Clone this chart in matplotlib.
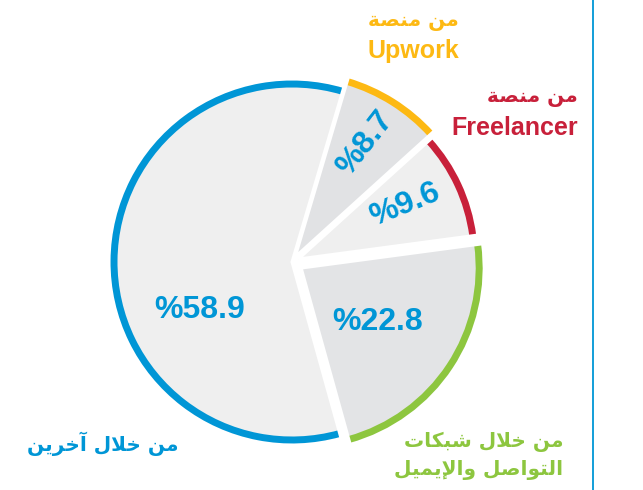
import numpy as np
import matplotlib.pyplot as plt
from matplotlib.patches import Wedge

# data
shares = [58.9, 22.8, 9.6, 8.7]
value_labels = ['%58.9', '%22.8', '%9.6', '%8.7']
ring_colors = ['#0096d6', '#8dc63f', '#c8203a', '#fdb913']
fill_colors = ['#efefef', '#e3e4e6', '#efefef', '#e1e2e4']
label_lines = [
    ['من خلال آخرين'],
    ['من خلال شبكات', 'التواصل والإيميل'],
    ['من منصة', 'Freelancer'],
    ['من منصة', 'Upwork'],
]

# arabic shaping by hand (matplotlib has no complex text layout)
FORMS = {  # isolated, final, initial, medial
    'ا': ('\uFE8D', '\uFE8E', None, None),
    'آ': ('\uFE81', '\uFE82', None, None),
    'إ': ('\uFE87', '\uFE88', None, None),
    'ب': ('\uFE8F', '\uFE90', '\uFE91', '\uFE92'),
    'ة': ('\uFE93', '\uFE94', None, None),
    'ت': ('\uFE95', '\uFE96', '\uFE97', '\uFE98'),
    'خ': ('\uFEA5', '\uFEA6', '\uFEA7', '\uFEA8'),
    'ر': ('\uFEAD', '\uFEAE', None, None),
    'ش': ('\uFEB5', '\uFEB6', '\uFEB7', '\uFEB8'),
    'ص': ('\uFEB9', '\uFEBA', '\uFEBB', '\uFEBC'),
    'ك': ('\uFED9', '\uFEDA', '\uFEDB', '\uFEDC'),
    'ل': ('\uFEDD', '\uFEDE', '\uFEDF', '\uFEE0'),
    'م': ('\uFEE1', '\uFEE2', '\uFEE3', '\uFEE4'),
    'ن': ('\uFEE5', '\uFEE6', '\uFEE7', '\uFEE8'),
    'و': ('\uFEED', '\uFEEE', None, None),
    'ي': ('\uFEF1', '\uFEF2', '\uFEF3', '\uFEF4'),
}
LAM_ALEF = {'ا': ('\uFEFB', '\uFEFC'), 'آ': ('\uFEF5', '\uFEF6'), 'إ': ('\uFEF9', '\uFEFA')}


def shape_arabic(text):
    if not any(c in FORMS for c in text):
        return text
    out = []
    prev_joins = False
    i = 0
    while i < len(text):
        c = text[i]
        nxt = text[i + 1] if i + 1 < len(text) else None
        if c not in FORMS:
            out.append(c)
            prev_joins = False
            i += 1
            continue
        if c == 'ل' and nxt in LAM_ALEF:
            out.append(LAM_ALEF[nxt][1 if prev_joins else 0])
            prev_joins = False
            i += 2
            continue
        iso, fin, ini, med = FORMS[c]
        joins_next = ini is not None and nxt in FORMS
        if prev_joins and joins_next:
            g = med
        elif prev_joins:
            g = fin
        elif joins_next:
            g = ini
        else:
            g = iso
        out.append(g)
        prev_joins = joins_next
        i += 1
    return ''.join(reversed(out))


# figure in pixel units (y up)
W, H = 643, 490
fig = plt.figure(figsize=(W / 100, H / 100), dpi=100)
ax = fig.add_axes([0, 0, 1, 1])
ax.set_xlim(0, W)
ax.set_ylim(0, H)
ax.axis('off')

center = np.array([292.0, 228.0])
start = 73.5
radii = [183, 183, 181, 188]
explode = [0, 11, 7, 6]
ring_w = 8.5

angles = start + np.concatenate([[0], np.cumsum(shares)]) / sum(shares) * 360
for i in range(len(shares)):
    t1, t2 = angles[i], angles[i + 1]
    mid = np.deg2rad((t1 + t2) / 2)
    c = center + explode[i] * np.array([np.cos(mid), np.sin(mid)])
    r = radii[i]
    ax.add_patch(Wedge(c, r, t1, t2, facecolor=fill_colors[i], edgecolor='none'))
    ax.add_patch(Wedge(c, r, t1, t2, width=ring_w, facecolor=ring_colors[i], edgecolor='none'))
    ax.add_patch(Wedge(c, r, t1, t2, facecolor='none', edgecolor='white', linewidth=2.2))

# value labels
blue = ring_colors[0]
val_pos = [(200, 180, 0), (378, 168, 0), (405, 285, 22), (365, 347, 52)]
for txt, (x, y, rot) in zip(value_labels, val_pos):
    ax.text(x, y, txt, color=blue, fontsize=23, fontweight='bold', family='Liberation Sans',
            ha='center', va='center', rotation=rot, rotation_mode='anchor')

# category labels
ar_font = dict(family='DejaVu Sans', fontweight='bold', fontsize=14.5)
lat_font = dict(family='Liberation Sans', fontweight='bold', fontsize=18)
label_pos = [
    [(103, 46, 'center')],
    [(563, 48, 'right'), (563, 20, 'right')],
    [(578, 392, 'right'), (578, 362, 'right')],
    [(413, 468, 'center'), (413, 439, 'center')],
]
for lines, poss, col in zip(label_lines, label_pos, ring_colors):
    for line, (x, y, ha) in zip(lines, poss):
        is_ar = any(ch in FORMS for ch in line)
        ax.text(x, y, shape_arabic(line), color=col, ha=ha, va='center',
                **(ar_font if is_ar else lat_font))

ax.axvline(592.5, color=blue, linewidth=1.3)

fig.savefig('out.png', dpi=100)
